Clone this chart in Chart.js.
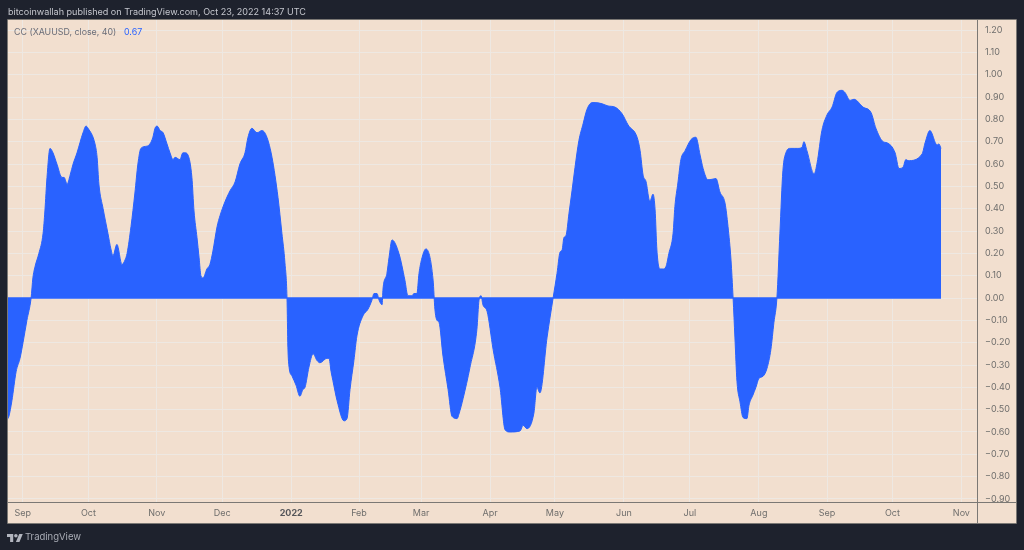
<!DOCTYPE html>
<html>
<head>
<meta charset="utf-8">
<title>CC (XAUUSD, close, 40)</title>
<script src="https://cdn.jsdelivr.net/npm/chart.js@4"></script>
<style>
html,body{margin:0;padding:0;width:1024px;height:550px;overflow:hidden;background:#1e222d;font-family:Inter,"Noto Sans",sans-serif}
#wrap{position:absolute;left:0;top:0;width:1024px;height:550px}
.t{position:absolute;white-space:nowrap;line-height:14px}
</style>
</head>
<body>
<div id="wrap"><canvas id="c" width="1024" height="550"></canvas></div>
<div class="t" style="left:8px;top:5px;font-size:9.05px;color:#c5c7ce">bitcoinwallah published on TradingView.com, Oct 23, 2022 14:37 UTC</div>
<div class="t" style="left:14px;top:25px;font-size:8.85px;color:#6a6d78">CC (XAUUSD, close, 40)</div>
<div class="t" style="left:124px;top:25px;font-size:8.85px;color:#2962ff">0.67</div>
<svg style="position:absolute;left:7px;top:532px" width="16" height="10" viewBox="0 0 36 22"><path fill="#b2b5be" d="M14 22H7V11H0V4h14v18zM28 22h-8l7.5-18h8L28 22z"/><circle fill="#b2b5be" cx="20" cy="8" r="4"/></svg>
<div class="t" style="left:25px;top:530px;font-size:9.5px;color:#a9acb5">TradingView</div>
<script>
const bars = [0,0.3,1.3,2.7,4,5,6.3,7.7,8.3,9,10.3,11.7,12.3,13,14,15,16.3,18,18.7,19.7,20.7,21.7,23,25,26,26.7,29,29.7,30.3,31.7,33.3,34.3,35,36.3,38,39,39.7,41,42.3,43.3,44.3,46.3,47.3,48.3,49,49.7,50.7,51.7,53,54,55,55.7,57.3,58.3,59,60,61.3,62,63,63.7,64.3,65,66.3,67.3,68.3,69.7,70.7,72.3,74,75.7,77.3,79,80,81.3,83,84.7,86.3,88,90,91.3,92.3,93,93.3,93.7,94.7,96,97.3,98.3,99,100.3,101.7,103,104,106.3,107,107.7,108.3,109.7,112,113,114,115.3,116.3,118.3,120,121.3,122,123,123.7,124.7,125,126.3,127,128,130.3,132.3,133.3,134.7,135.3,136.3,137,138,139.3,141.7,142.3,143,143.7,145,146.7,148,149.7,150.3,151.7,154,156.3,157,157.7,158.3,159.7,161.7,164,165.7,167.3,170.7,171.7,173,175.3,176.3,177.3,179.7,181.7,183,184,184.7,185.3,186,187,188,189,190.3,191.7,193,194.7,195.7,198,200,202.3,204.7,206.7,209.7,210.7,211.7,212.7,213.7,214,215,215.7,216.3,217.3,218.3,219.3,220.3,221.7,222.3,223.3,224.3,225.7,227.7,229.3,230.7,231.7,233.3,234,236,237.3,239,240,241,241.7,242.3,243,244,245,246.3,247,248.3,249.3,250.3,251.7,253,254.3,255.3,256.3,257.3,258.3,259.3,260.7,262.3,263.3,264.7,265.3,266.3,268.7,269.7,271.3,273,274.7,276.3,278,279,280.7,282,285,287.7,289.3,291.7,293,295.7,297,298.3,299.3,300,304.7,305.7,307.3,309.7,310.3,311];
const ccValues = [-0.54,-0.53,-0.46,-0.33,-0.27,-0.20,-0.10,0,0.09,0.14,0.20,0.29,0.39,0.54,0.67,0.65,0.60,0.54,0.54,0.51,0.55,0.60,0.65,0.74,0.77,0.76,0.69,0.63,0.51,0.40,0.29,0.22,0.19,0.24,0.15,0.17,0.20,0.32,0.47,0.60,0.67,0.68,0.69,0.72,0.76,0.77,0.75,0.74,0.69,0.65,0.62,0.63,0.62,0.65,0.65,0.64,0.54,0.39,0.27,0.18,0.10,0.09,0.13,0.15,0.21,0.32,0.37,0.43,0.48,0.52,0.60,0.65,0.72,0.76,0.74,0.75,0.72,0.63,0.45,0.29,0.16,0,-0.22,-0.31,-0.35,-0.39,-0.44,-0.41,-0.40,-0.31,-0.25,-0.28,-0.29,-0.27,-0.27,-0.33,-0.37,-0.46,-0.55,-0.54,-0.41,-0.28,-0.17,-0.08,-0.05,-0.01,0.02,0.02,-0.01,-0.03,0.04,0.11,0.18,0.26,0.20,0.08,0.01,0.01,0.02,0.02,0.11,0.18,0.22,0.08,-0.05,-0.10,-0.11,-0.26,-0.41,-0.53,-0.54,-0.52,-0.45,-0.31,-0.14,-0.01,0.01,-0.03,-0.06,-0.23,-0.40,-0.59,-0.60,-0.595,-0.57,-0.585,-0.515,-0.40,-0.425,-0.175,0,0.11,0.205,0.215,0.27,0.28,0.38,0.48,0.585,0.705,0.78,0.845,0.875,0.875,0.87,0.86,0.855,0.825,0.775,0.72,0.66,0.55,0.52,0.44,0.435,0.465,0.395,0.215,0.13,0.13,0.14,0.20,0.29,0.41,0.515,0.62,0.66,0.71,0.72,0.64,0.58,0.53,0.53,0.535,0.475,0.425,0.32,0.17,0,-0.175,-0.375,-0.465,-0.535,-0.54,-0.48,-0.435,-0.40,-0.36,-0.35,-0.315,-0.23,-0.11,0,0.29,0.57,0.65,0.67,0.67,0.67,0.675,0.70,0.66,0.555,0.605,0.75,0.82,0.855,0.92,0.93,0.92,0.885,0.89,0.855,0.83,0.76,0.70,0.695,0.65,0.58,0.585,0.62,0.615,0.645,0.695,0.75,0.685,0.69,0.67];
const monthLabels = ["Sep","Oct","Nov","Dec","2022","Feb","Mar","Apr","May","Jun","Jul","Aug","Sep","Oct","Nov"];
const monthBars = [4.9,26.8,49.6,71.4,94.4,117,137.7,160.7,182.3,205.3,227.3,250.3,273,294.8,317.8];
const yTicks = [1.2,1.1,1.0,0.9,0.8,0.7,0.6,0.5,0.4,0.3,0.2,0.1,0,-0.1,-0.2,-0.3,-0.4,-0.5,-0.6,-0.7,-0.8,-0.9];

const BLUE = "#2962ff", GRID = "#eee8e2", AXIS = "#7b7874", LABEL = "#6f6e6c";
const panel = {
  id: "panel",
  beforeDraw(ch) {
    const g = ch.ctx, a = ch.chartArea;
    g.save();
    g.fillStyle = "#1e222d"; g.fillRect(0, 0, ch.width, ch.height);
    g.fillStyle = "#f2dfcf"; g.fillRect(a.left, a.top, ch.width - 8 - a.left, 523 - a.top);
    g.restore();
  },
  afterDraw(ch) {
    const g = ch.ctx, a = ch.chartArea, r = ch.width - 8;
    g.save();
    g.strokeStyle = AXIS; g.lineWidth = 1;
    g.beginPath();
    g.moveTo(a.left - 0.5, a.top - 0.5); g.lineTo(r + 0.5, a.top - 0.5); g.lineTo(r + 0.5, 523.5); g.lineTo(a.left - 0.5, 523.5); g.closePath();
    g.moveTo(a.left, a.bottom + 0.5); g.lineTo(r, a.bottom + 0.5);
    g.moveTo(a.right + 0.5, a.top); g.lineTo(a.right + 0.5, 523);
    g.stroke();
    g.restore();
  }
};

new Chart(document.getElementById("c"), {
  type: "line",
  data: {
    datasets: [
      { label: "CC (XAUUSD, close, 40)", data: bars.map((b, i) => ({ x: b, y: ccValues[i] })),
        borderColor: BLUE, backgroundColor: BLUE, borderWidth: 1, pointRadius: 0, cubicInterpolationMode: "monotone", fill: "origin" },
      { label: "zero", data: [{ x: bars[0], y: 0 }, { x: bars[bars.length - 1], y: 0 }],
        borderColor: BLUE, borderWidth: 1.5, pointRadius: 0, fill: false }
    ]
  },
  options: {
    responsive: false,
    devicePixelRatio: 1,
    animation: false,
    layout: { padding: { left: 8, top: 20, right: 8, bottom: 27 } },
    plugins: { legend: { display: false }, tooltip: { enabled: false } },
    scales: {
      x: {
        type: "linear", min: 0, max: 323,
        afterBuildTicks(s) { s.ticks = monthBars.map(v => ({ value: v })); },
        afterFit(s) { s.height = 21; },
        grid: { color: GRID, lineWidth: 1, drawTicks: false },
        border: { display: false },
        ticks: {
          autoSkip: false, maxRotation: 0, padding: 6,
          color: ctx => monthLabels[ctx.index] === "2022" ? "#55565a" : LABEL,
          font: ctx => ({ family: "Inter", size: 9, weight: monthLabels[ctx.index] === "2022" ? "700" : "400" }),
          callback: (v, i) => monthLabels[i]
        }
      },
      y: {
        position: "right", min: -0.9135, max: 1.245,
        afterBuildTicks(s) { s.ticks = yTicks.map(v => ({ value: v })); },
        afterFit(s) { s.width = 39; },
        grid: { color: GRID, lineWidth: 1, drawTicks: false },
        border: { display: false },
        ticks: {
          autoSkip: false, padding: 8, color: LABEL,
          font: { family: "Inter", size: 9 },
          callback: v => v.toFixed(2).replace("-", "\u2212")
        }
      }
    }
  },
  plugins: [panel]
});
</script>
</body>
</html>
